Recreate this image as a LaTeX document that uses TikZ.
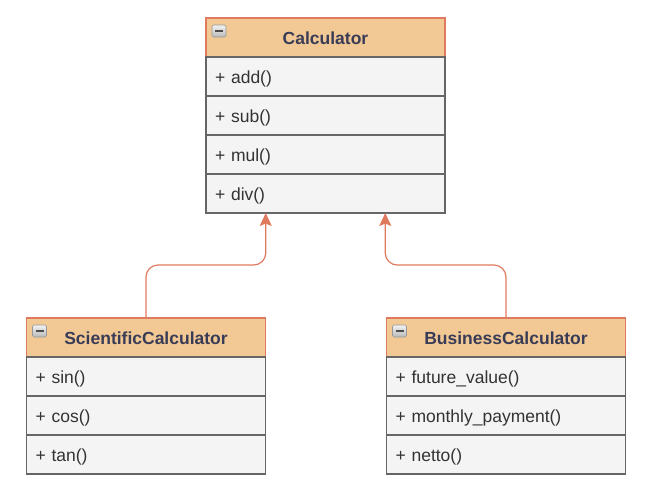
\documentclass[tikz,border=0pt]{standalone}
\usepackage{fontspec}
\setmainfont{Liberation Sans}
\usetikzlibrary{arrows.meta,calc}
\definecolor{headfill}{HTML}{F2C994}
\definecolor{headline}{HTML}{E07A5F}
\definecolor{headtext}{HTML}{393C56}
\definecolor{rowfill}{HTML}{F4F4F4}
\definecolor{rowline}{HTML}{666666}
\definecolor{rowtext}{HTML}{333333}
\tikzset{
  head/.style={draw=headline, fill=headfill, line width=1.2pt, inner sep=0pt,
    outer sep=0pt, minimum width=239pt, minimum height=39pt, text=headtext,
    text height=14.4pt, text depth=0pt,
    font=\fontsize{17.5}{20}\selectfont\bfseries},
  row/.style={draw=rowline, fill=rowfill, line width=1.2pt, inner xsep=9pt,
    inner ysep=0pt, outer sep=0pt, text width=221pt, align=left,
    text height=17pt, text depth=4pt,
    minimum height=39pt, text=rowtext, font=\fontsize{17.5}{20}\selectfont},
  icon/.style={draw=gray!80, line width=0.6pt, rounded corners=1.5pt,
    top color=gray!10, bottom color=gray!55},
  iconbar/.style={line width=1.8pt, draw=black!70},
  arr/.style={->, draw=headline, line width=1.2pt, rounded corners=12pt}
}
\begin{document}
\begin{tikzpicture}[x=1pt, y=-1pt, >={Stealth[length=13pt,width=12pt,inset=2.5pt]}]
    \useasboundingbox (0,0) rectangle (646,499);
    %Lớp Calculator
    \node[head] (calc) at (325.5,37.5) {Calculator};
    \node[row] (calc1) at (325.5,76.5) {+ add()};
    \node[row] (calc2) at (325.5,115.5) {+ sub()};
    \node[row] (calc3) at (325.5,154.5) {+ mul()};
    \node[row] (calc4) at (325.5,193.5) {+ div()};
    \draw[icon] ($(calc.north west)+(6,7)$) rectangle ++(14,12);
    \draw[iconbar] ($(calc.north west)+(9,13)$) -- ++(8,0);
    %Lớp ScientificCalculator
    \node[head] (sci) at (146,337.5) {ScientificCalculator};
    \node[row] (sci1) at (146,376.5) {+ sin()};
    \node[row] (sci2) at (146,415.5) {+ cos()};
    \node[row] (sci3) at (146,454.5) {+ tan()};
    \draw[icon] ($(sci.north west)+(6,7)$) rectangle ++(14,12);
    \draw[iconbar] ($(sci.north west)+(9,13)$) -- ++(8,0);
    %Lớp BusinessCalculator
    \node[head] (bus) at (506,337.5) {BusinessCalculator};
    \node[row] (bus1) at (506,376.5) {+ future\_value()};
    \node[row] (bus2) at (506,415.5) {+ monthly\_payment()};
    \node[row] (bus3) at (506,454.5) {+ netto()};
    \draw[icon] ($(bus.north west)+(6,7)$) rectangle ++(14,12);
    \draw[iconbar] ($(bus.north west)+(9,13)$) -- ++(8,0);
    %Kế thừa
    \coordinate (inL) at ($(calc4.south west)!0.25!(calc4.south east)$);
    \coordinate (inR) at ($(calc4.south west)!0.75!(calc4.south east)$);
    \draw[arr] (sci.north) -- ++(0,-53) -| (inL);
    \draw[arr] (bus.north) -- ++(0,-53) -| (inR);
\end{tikzpicture}
\end{document}
